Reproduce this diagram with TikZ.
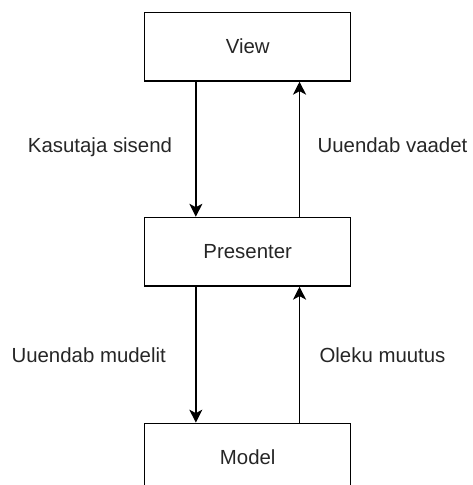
\documentclass[tikz,border=0pt]{standalone}
\usepackage{fontspec}
\setmainfont{Liberation Sans}
\usetikzlibrary{arrows.meta,calc}
\begin{document}
\begin{tikzpicture}[x=1pt,y=-1pt,
  box/.style={draw, line width=1.4pt, minimum width=206pt, minimum height=68.5pt,
    inner sep=0pt, font=\fontsize{20.4}{24}\selectfont, text=black!85},
  flow/.style={line width=1.4pt, -{Stealth[length=13pt,width=13pt,inset=3.5pt]}},
  lbl/.style={anchor=base, inner sep=0pt, font=\fontsize{20.4}{24}\selectfont, text=black!85}]
\useasboundingbox (0,0) rectangle (473,485);
\clip (0,0) rectangle (473,485);
% the three layers
\node[box] (view) at (247.7,46.7) {View};
\node[box] (pres) at (247.7,251.7) {Presenter};
\node[box] (model) at (247.7,457.6) {Model};
% View <-> Presenter
\draw[flow] ($(view.south west)!.25!(view.south east)$) -- ($(pres.north west)!.25!(pres.north east)$);
\draw[flow] ($(pres.north west)!.75!(pres.north east)$) -- ($(view.south west)!.75!(view.south east)$);
% Presenter <-> Model
\draw[flow] ($(pres.south west)!.25!(pres.south east)$) -- ($(model.north west)!.25!(model.north east)$);
\draw[flow] ($(model.north west)!.75!(model.north east)$) -- ($(pres.south west)!.75!(pres.south east)$);
% edge labels
\node[lbl] (l1) at (100,152.5) {Kasutaja sisend};
\node[lbl] (l2) at (392.5,152.5) {Uuendab vaadet};
\node[lbl] (l3) at (88.7,362.3) {Uuendab mudelit};
\node[lbl] (l4) at (382.5,362.3) {Oleku muutus};
\end{tikzpicture}
\end{document}
